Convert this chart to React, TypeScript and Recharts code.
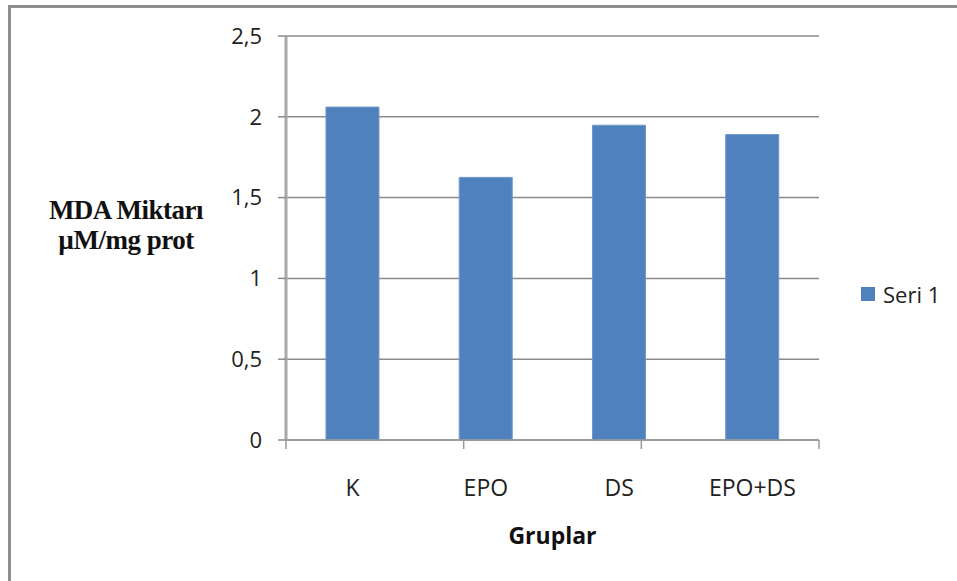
import { BarChart, Bar, XAxis, YAxis, CartesianGrid } from "recharts";

const groups = ["K", "EPO", "DS", "EPO+DS"];
const mdaValues = [2.06, 1.625, 1.948, 1.89];
const yTicks = [0, 0.5, 1, 1.5, 2, 2.5];
const boundaryTicks = [0, 1, 2, 3, 4];
const seriesName = "Seri 1";

const data = groups.map((g, i) => ({ group: g, value: mdaValues[i] }));

const FONT = "'Open Sans', sans-serif";
const SERIF = "'Liberation Serif', serif";
const BLUE = "#4f81bd";

function YLabel() {
  const cx = 126;
  const style = { fontFamily: SERIF, fontWeight: 700, fontSize: 27, fill: "#111", letterSpacing: -0.5 };
  return (
    <g>
      <text x={cx} y={219} textAnchor="middle" style={style}>
        MDA Miktarı
      </text>
      <text x={cx} y={249} textAnchor="middle" style={style}>
        µM/mg prot
      </text>
    </g>
  );
}

export default function App() {
  return (
    <div style={{ position: "absolute", left: 0, top: 0, width: 957, height: 581, background: "#fff", overflow: "hidden" }}>
      <div
        style={{
          position: "absolute",
          left: 8,
          top: 5,
          width: 980,
          height: 600,
          borderLeft: "3px solid #8e8e8e",
          borderTop: "3px solid #8e8e8e",
          boxSizing: "border-box",
        }}
      />
      <div style={{ position: "absolute", left: 0, top: 0 }}>
        <BarChart
          width={957}
          height={581}
          data={data}
          margin={{ top: 36, right: 138, left: 0, bottom: 40 }}
          barCategoryGap="30%"
        >
          <CartesianGrid vertical={false} stroke="#8a8a8a" strokeWidth={1.5} />
          <XAxis
            xAxisId="bounds"
            type="number"
            domain={[0, 4]}
            ticks={boundaryTicks}
            height={1}
            axisLine={{ stroke: "#999", strokeWidth: 1.5 }}
            tickLine={{ stroke: "#999", strokeWidth: 1.5 }}
            tickSize={9}
            tick={() => <g />}
          />
          <XAxis
            xAxisId="cat"
            dataKey="group"
            height={100}
            axisLine={false}
            tickLine={false}
            tickSize={9}
            tickMargin={30}
            tick={{ fontFamily: FONT, fontSize: 23, fill: "#222" }}
            label={{
              value: "Gruplar",
              position: "insideTop",
              offset: 87,
              style: { fontFamily: FONT, fontSize: 23, fontWeight: 700, fill: "#111" },
            }}
          />
          <YAxis
            width={286}
            domain={[0, 2.5]}
            ticks={yTicks}
            interval={0}
            axisLine={{ stroke: "#a8a8a8", strokeWidth: 3 }}
            tickLine={{ stroke: "#8a8a8a", strokeWidth: 1.5 }}
            tickSize={8}
            tickMargin={16}
            tickFormatter={(v: number) => String(v).replace(".", ",")}
            tick={{ fontFamily: FONT, fontSize: 22, fill: "#222" }}
            label={<YLabel />}
          />
          <Bar
            xAxisId="cat"
            dataKey="value"
            name={seriesName}
            fill={BLUE}
            stroke="#6f98cc"
            strokeWidth={1}
            isAnimationActive={false}
          />
        </BarChart>
      </div>
      <div
        style={{
          position: "absolute",
          left: 861,
          top: 279,
          display: "flex",
          alignItems: "center",
          fontFamily: FONT,
          fontSize: 22,
          color: "#222",
          whiteSpace: "nowrap",
        }}
      >
        <span style={{ display: "inline-block", width: 14, height: 14, background: BLUE, marginRight: 8 }} />
        {seriesName}
      </div>
    </div>
  );
}
